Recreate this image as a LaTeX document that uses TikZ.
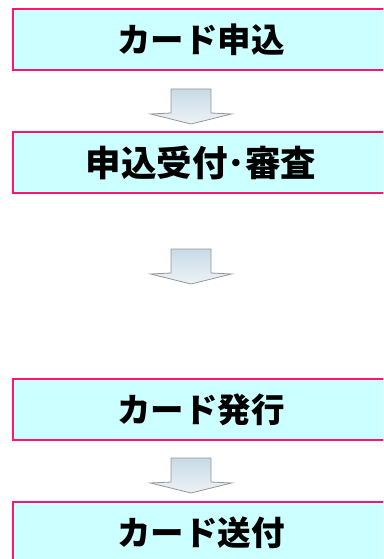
\documentclass[tikz,border=0pt]{standalone}
\usepackage{fontspec}
\newfontfamily\cjk{Noto Sans CJK JP Black}
\usetikzlibrary{calc}
\definecolor{boxfill}{RGB}{204,255,255}
\definecolor{boxline}{RGB}{255,20,110}
\definecolor{arrtop}{RGB}{200,218,230}
\definecolor{arrbot}{RGB}{236,243,247}
\definecolor{arrline}{RGB}{150,150,150}
\tikzset{
  stepbox/.style={draw=boxline, line width=1.3pt, fill=boxfill, rectangle,
    minimum width=376pt, minimum height=61pt, inner sep=0pt, font=\cjk\fontsize{33.5pt}{36pt}\selectfont},
  blockarrow/.style={draw=arrline, line width=0.8pt, top color=arrtop, middle color=white, bottom color=arrbot},
  pics/downarrow/.style={code={
    \path[blockarrow] (-20,0) -- (20,0) -- (20,24) -- (40.5,25) -- (0,35) -- (-40.5,25) -- (-20,24) -- cycle;
  }}
}
\begin{document}
\begin{tikzpicture}[x=1pt,y=-1pt]
\useasboundingbox (0,0) rectangle (383,559);
\clip (0,0) rectangle (383,559);
\node[stepbox] (b1) at (201,39.5) {\raisebox{-4pt}{カード申込}};
\node[stepbox, font=\cjk\fontsize{35.5pt}{38pt}\selectfont] (b2) at (201,162.5) {\raisebox{-4pt}{申込受付･審査}};
\node[stepbox] (b3) at (201,409.5) {\raisebox{-4pt}{カード発行}};
\node[stepbox] (b4) at (201,532.5) {\raisebox{-4pt}{カード送付}};
\coordinate (a1) at (191,89);
\coordinate (a2) at (191,249);
\coordinate (a3) at (191,458);
\pic at (a1) {downarrow};
\pic at (a2) {downarrow};
\pic at (a3) {downarrow};
\end{tikzpicture}
\end{document}
